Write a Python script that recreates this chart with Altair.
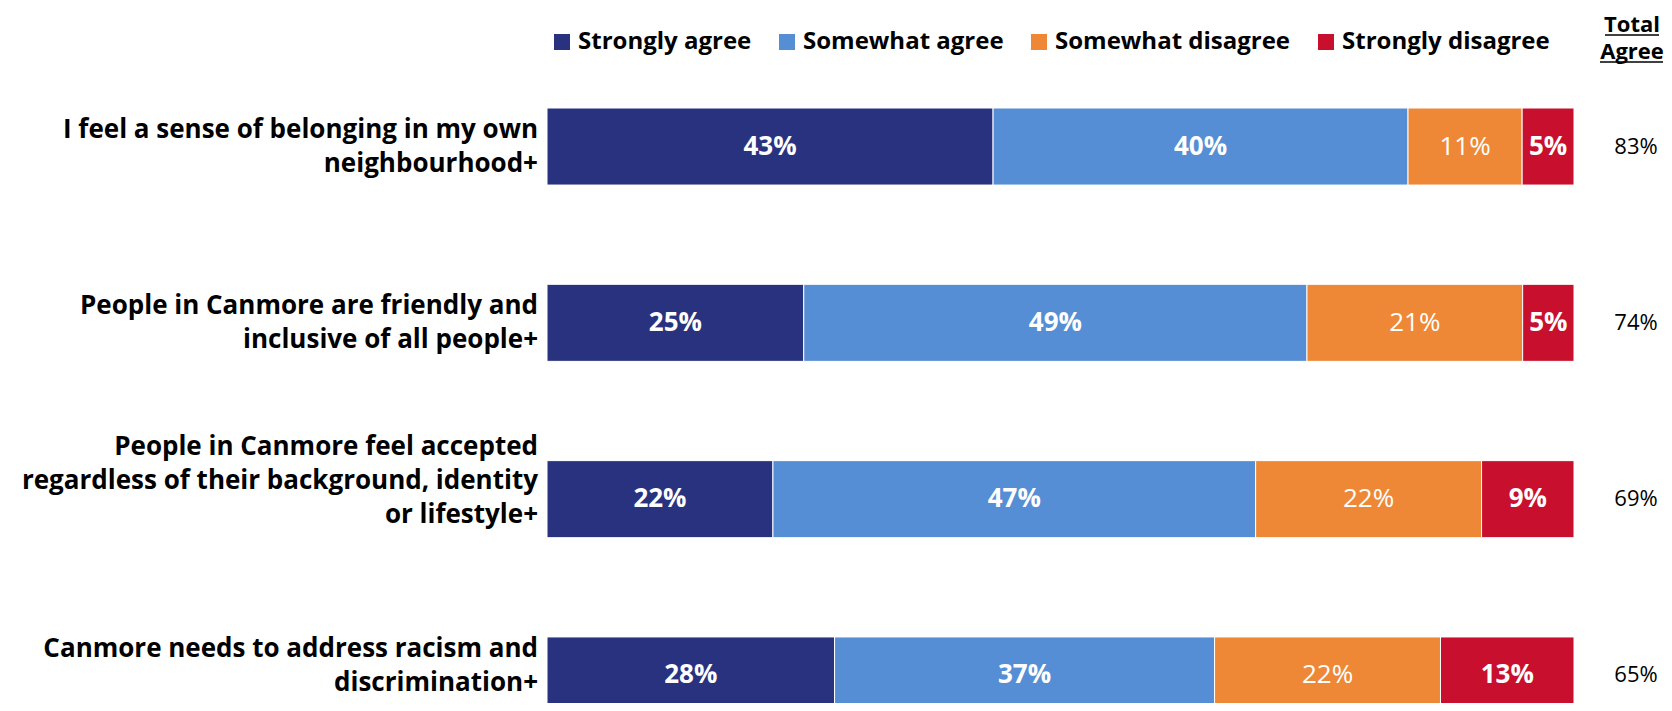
import altair as alt
import pandas as pd

questions = [
    "I feel a sense of belonging in my own|neighbourhood+",
    "People in Canmore are friendly and|inclusive of all people+",
    "People in Canmore feel accepted|regardless of their background, identity|or lifestyle+",
    "Canmore needs to address racism and|discrimination+",
]
levels = ["Strongly agree", "Somewhat agree", "Somewhat disagree", "Strongly disagree"]
colors = ["#29327F", "#558ED5", "#EE8836", "#C8102E"]

strongly_agree = [43, 25, 22, 28]
somewhat_agree = [40, 49, 47, 37]
somewhat_disagree = [11, 21, 22, 22]
strongly_disagree = [5, 5, 9, 13]
total_agree = [83, 74, 69, 65]

series = [strongly_agree, somewhat_agree, somewhat_disagree, strongly_disagree]
rows = []
for i, q in enumerate(questions):
    for j, lvl in enumerate(levels):
        rows.append({"question": q, "level": lvl, "order": j,
                     "value": series[j][i], "label": f"{series[j][i]}%"})
df = pd.DataFrame(rows)
tot_df = pd.DataFrame({"question": questions, "label": [f"{v}%" for v in total_agree]})
q_df = pd.DataFrame({"question": questions})

FONT = "Open Sans"

y_enc = alt.Y(
    "question:N", sort=questions,
    scale=alt.Scale(range=[0, 606], paddingInner=0.563, paddingOuter=0),
    axis=None,
)
y_plain = alt.Y("question:N", sort=questions)

base = (
    alt.Chart(df)
    .transform_joinaggregate(total="sum(value)", groupby=["question"])
    .transform_calculate(frac="datum.value / datum.total")
    .transform_stack(stack="frac", as_=["x0", "x1"], groupby=["question"],
                     sort=[alt.SortField("order", order="ascending")])
    .transform_calculate(mid="(datum.x0 + datum.x1) / 2")
)

x_scale = alt.Scale(domain=[0, 1], nice=False, zero=False)

bars = base.mark_bar(stroke="white", strokeWidth=1).encode(
    x=alt.X("x0:Q", scale=x_scale, axis=None),
    x2="x1:Q",
    y=y_enc,
    color=alt.Color(
        "level:N", scale=alt.Scale(domain=levels, range=colors),
        legend=alt.Legend(title=None, orient="none", legendX=3, legendY=-78, padding=0,
                          direction="horizontal", symbolType="square", symbolSize=256,
                          symbolStrokeWidth=0, symbolOpacity=1, labelFont=FONT,
                          labelFontSize=24, labelFontWeight="bold", labelColor="black",
                          labelOffset=4, columnPadding=23, labelLimit=400),
    ),
)

labels_bold = base.transform_filter("datum.level != 'Somewhat disagree'").mark_text(
    font=FONT, fontSize=26, fontWeight="bold", color="white", baseline="middle", align="center"
).encode(x=alt.X("mid:Q", scale=x_scale), y=y_plain, text="label:N")

labels_reg = base.transform_filter("datum.level == 'Somewhat disagree'").mark_text(
    font=FONT, fontSize=26, fontWeight="normal", color="white", baseline="middle", align="center"
).encode(x=alt.X("mid:Q", scale=x_scale), y=y_plain, text="label:N")

def qlabels(subset, dy):
    return alt.Chart(q_df).transform_filter(
        alt.FieldOneOfPredicate(field="question", oneOf=subset)
    ).mark_text(
        font=FONT, fontSize=26, fontWeight="bold", color="black", align="right",
        baseline="middle", lineBreak="|", lineHeight=34, dy=dy
    ).encode(y=y_plain, x=alt.value(-9), text="question:N")

q12 = qlabels(questions[:2], -17)
q3 = qlabels(questions[2:3], -52)
q4 = qlabels(questions[3:4], -26)

totals = alt.Chart(tot_df).mark_text(
    font=FONT, fontSize=22, color="black", baseline="middle", align="center"
).encode(y=y_plain, x=alt.value(1089), text="label:N")

hdr = pd.DataFrame({"a": [1]})
hdr1 = alt.Chart(hdr).mark_text(text="Total", font=FONT, fontSize=22, fontWeight="bold",
                                color="black", align="center", baseline="alphabetic").encode(
    x=alt.value(1085), y=alt.value(-76))
hdr2 = alt.Chart(hdr).mark_text(text="Agree", font=FONT, fontSize=22, fontWeight="bold",
                                color="black", align="center", baseline="alphabetic").encode(
    x=alt.value(1085), y=alt.value(-49))
ul1 = alt.Chart(hdr).mark_rule(color="black", strokeWidth=1.5).encode(
    x=alt.value(1058), x2=alt.value(1112), y=alt.value(-73))
ul2 = alt.Chart(hdr).mark_rule(color="black", strokeWidth=1.5).encode(
    x=alt.value(1053), x2=alt.value(1116), y=alt.value(-46))

chart = (
    alt.layer(bars, labels_bold, labels_reg, q12, q3, q4, totals, hdr1, hdr2, ul1, ul2)
    .properties(width=1027, height=595,
                padding={"left": 539, "top": 100, "right": 90, "bottom": 0},
                autosize=alt.AutoSizeParams(type="none"), background="white")
    .configure_view(stroke=None)
)

chart.save("out.html", embed_options={"renderer": "svg", "actions": False})
